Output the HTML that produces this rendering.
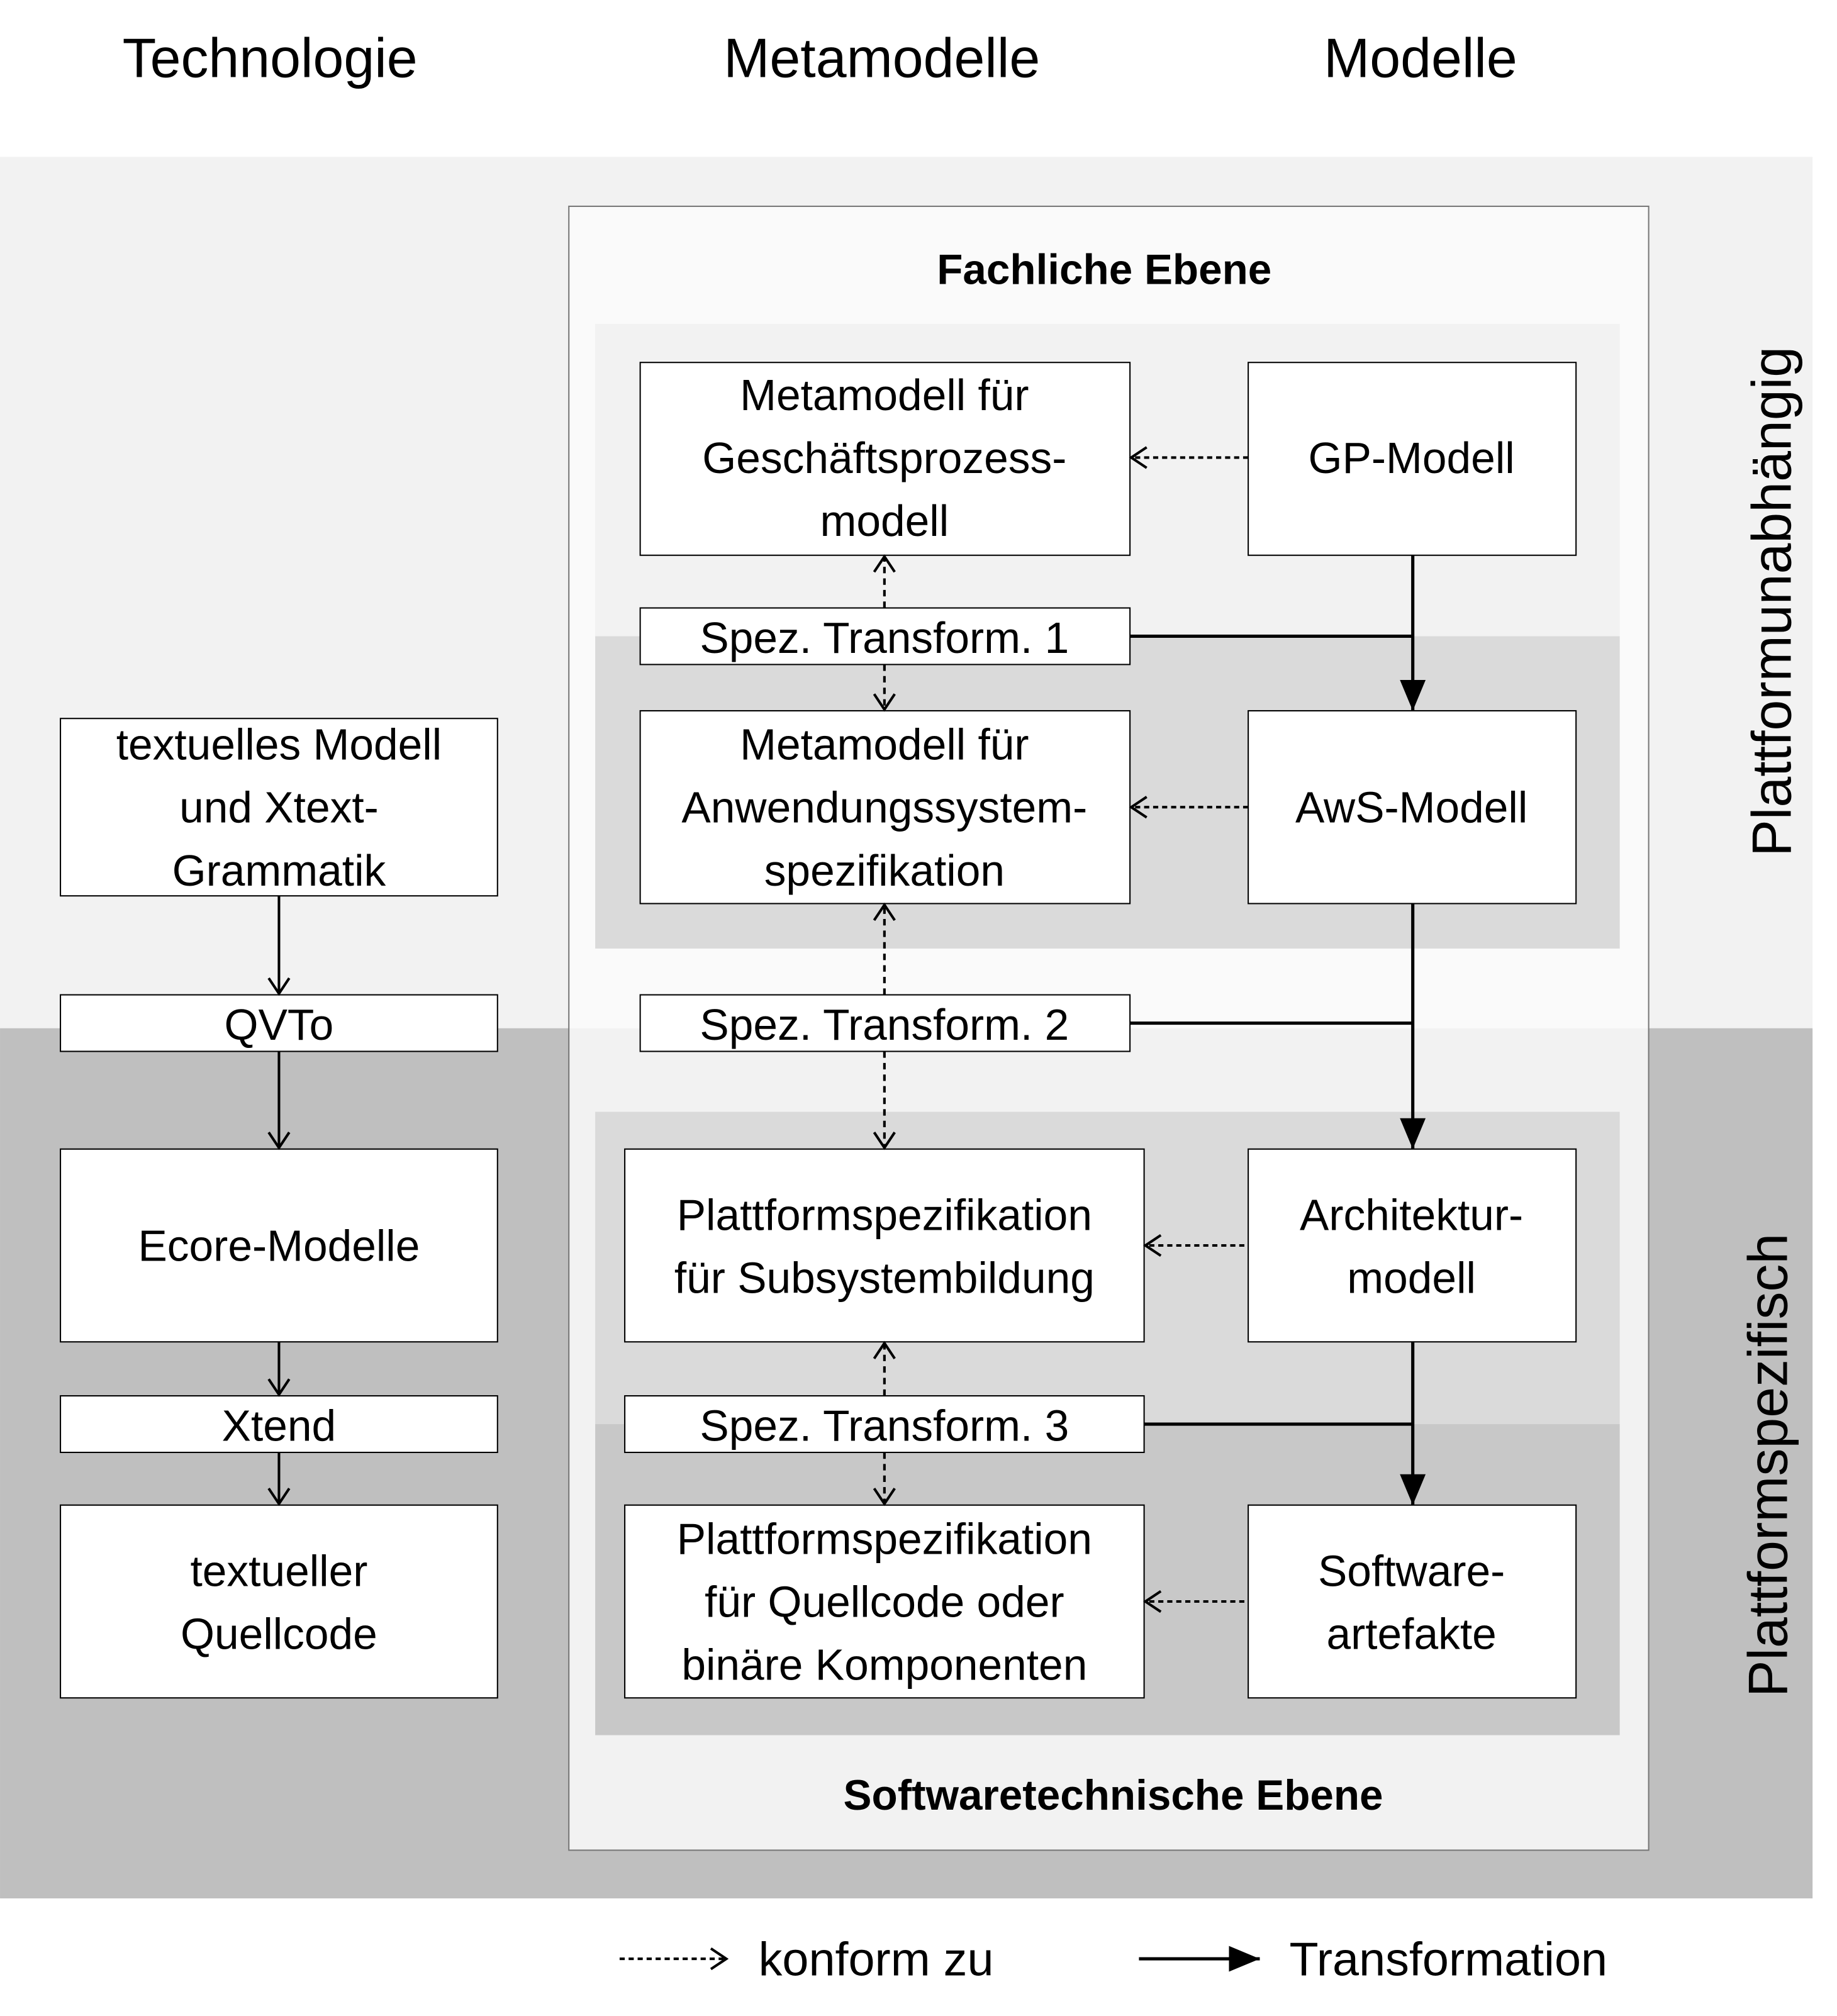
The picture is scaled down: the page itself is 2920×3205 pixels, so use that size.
<!DOCTYPE html>
<html><head><meta charset="utf-8"><style>html,body{margin:0;padding:0;background:#fff}svg{display:block}</style></head><body>
<svg xmlns="http://www.w3.org/2000/svg" width="2920" height="3205" viewBox="0 0 1429 1568.5">
<defs>
<marker id="open" markerWidth="20" markerHeight="20" refX="14" refY="10" orient="auto" markerUnits="userSpaceOnUse"><path d="M2,2 L14,10 L2,18" fill="none" stroke="#000" stroke-width="2"/></marker>
<marker id="tri" markerWidth="30" markerHeight="30" refX="24" refY="12" orient="auto" markerUnits="userSpaceOnUse"><path d="M0,2 L24,12 L0,22 Z" fill="#000"/></marker>
</defs>
<style>text{font-family:"Liberation Sans",sans-serif;fill:#000}.b{font-size:34px;text-anchor:middle}.h{font-size:43px;text-anchor:middle}.bold{font-weight:bold;font-size:33px;text-anchor:middle}</style>
<rect x="0" y="0" width="1452" height="1594" fill="#fff"/>
<rect x="0" y="122" width="1410" height="678" fill="#f2f2f2"/>
<rect x="0" y="800" width="1410" height="677" fill="#bfbfbf"/>
<rect x="442.5" y="160.5" width="840" height="1279" fill="#fafafa"/>
<rect x="442.5" y="800" width="840" height="639" fill="#f2f2f2"/>
<rect x="442.5" y="160.5" width="840" height="1279" fill="none" stroke="#777" stroke-width="1"/>
<rect x="463" y="252" width="797" height="243" fill="#f2f2f2"/>
<rect x="463" y="495" width="797" height="243" fill="#dadada"/>
<rect x="463" y="865" width="797" height="243" fill="#dadada"/>
<rect x="463" y="1108" width="797" height="242" fill="#c8c8c8"/>

<text class="h" x="210" y="60">Technologie</text>
<text class="h" x="686" y="60">Metamodelle</text>
<text class="h" x="1105" y="60">Modelle</text>
<text class="bold" x="859" y="221">Fachliche Ebene</text>
<text class="bold" x="866" y="1408">Softwaretechnische Ebene</text>
<text class="h" transform="translate(1393,468) rotate(-90)">Plattformunabhängig</text>
<text class="h" transform="translate(1390,1140) rotate(-90)">Plattformspezifisch</text>

<g fill="#fff" stroke="#000" stroke-width="1">
<rect x="498" y="282" width="381" height="150"/>
<rect x="971" y="282" width="255" height="150"/>
<rect x="498" y="473" width="381" height="44"/>
<rect x="498" y="553" width="381" height="150"/>
<rect x="971" y="553" width="255" height="150"/>
<rect x="498" y="774" width="381" height="44"/>
<rect x="486" y="894" width="404" height="150"/>
<rect x="971" y="894" width="255" height="150"/>
<rect x="486" y="1086" width="404" height="44"/>
<rect x="486" y="1171" width="404" height="150"/>
<rect x="971" y="1171" width="255" height="150"/>
<rect x="47" y="559" width="340" height="138"/>
<rect x="47" y="774" width="340" height="44"/>
<rect x="47" y="894" width="340" height="150"/>
<rect x="47" y="1086" width="340" height="44"/>
<rect x="47" y="1171" width="340" height="150"/>
</g>

<text class="b" x="688" y="319">Metamodell für</text>
<text class="b" x="688" y="368">Geschäftsprozess-</text>
<text class="b" x="688" y="417">modell</text>
<text class="b" x="1098" y="368">GP-Modell</text>
<text class="b" x="688" y="508">Spez. Transform. 1</text>
<text class="b" x="688" y="591">Metamodell für</text>
<text class="b" x="688" y="640">Anwendungssystem-</text>
<text class="b" x="688" y="689">spezifikation</text>
<text class="b" x="1098" y="640">AwS-Modell</text>
<text class="b" x="688" y="809">Spez. Transform. 2</text>
<text class="b" x="688" y="957">Plattformspezifikation</text>
<text class="b" x="688" y="1006">für Subsystembildung</text>
<text class="b" x="1098" y="957">Architektur-</text>
<text class="b" x="1098" y="1006">modell</text>
<text class="b" x="688" y="1121">Spez. Transform. 3</text>
<text class="b" x="688" y="1209">Plattformspezifikation</text>
<text class="b" x="688" y="1258">für Quellcode oder</text>
<text class="b" x="688" y="1307">binäre Komponenten</text>
<text class="b" x="1098" y="1234">Software-</text>
<text class="b" x="1098" y="1283">artefakte</text>
<text class="b" x="217" y="591">textuelles Modell</text>
<text class="b" x="217" y="640">und Xtext-</text>
<text class="b" x="217" y="689">Grammatik</text>
<text class="b" x="217" y="809">QVTo</text>
<text class="b" x="217" y="981">Ecore-Modelle</text>
<text class="b" x="217" y="1121">Xtend</text>
<text class="b" x="217" y="1234">textueller</text>
<text class="b" x="217" y="1283">Quellcode</text>

<g stroke="#000" stroke-width="2" fill="none">
<line x1="971" y1="356" x2="880" y2="356" stroke-dasharray="4,3" marker-end="url(#open)"/>
<line x1="971" y1="628" x2="880" y2="628" stroke-dasharray="4,3" marker-end="url(#open)"/>
<line x1="968" y1="969" x2="891" y2="969" stroke-dasharray="4,3" marker-end="url(#open)"/>
<line x1="968" y1="1246" x2="891" y2="1246" stroke-dasharray="4,3" marker-end="url(#open)"/>
<line x1="688" y1="473" x2="688" y2="433" stroke-dasharray="5,4" marker-end="url(#open)"/>
<line x1="688" y1="517" x2="688" y2="552" stroke-dasharray="5,4" marker-end="url(#open)"/>
<line x1="688" y1="774" x2="688" y2="704" stroke-dasharray="5,4" marker-end="url(#open)"/>
<line x1="688" y1="818" x2="688" y2="893" stroke-dasharray="5,4" marker-end="url(#open)"/>
<line x1="688" y1="1086" x2="688" y2="1045" stroke-dasharray="5,4" marker-end="url(#open)"/>
<line x1="688" y1="1130" x2="688" y2="1170" stroke-dasharray="5,4" marker-end="url(#open)"/>
<line x1="217" y1="697" x2="217" y2="773" marker-end="url(#open)"/>
<line x1="217" y1="818" x2="217" y2="893" marker-end="url(#open)"/>
<line x1="217" y1="1044" x2="217" y2="1085" marker-end="url(#open)"/>
<line x1="217" y1="1130" x2="217" y2="1170" marker-end="url(#open)"/>
<g stroke-width="2.5">
<line x1="1099" y1="432" x2="1099" y2="553" marker-end="url(#tri)"/>
<line x1="879" y1="495" x2="1099" y2="495"/>
<line x1="1099" y1="703" x2="1099" y2="894" marker-end="url(#tri)"/>
<line x1="879" y1="796" x2="1099" y2="796"/>
<line x1="1099" y1="1044" x2="1099" y2="1171" marker-end="url(#tri)"/>
<line x1="890" y1="1108" x2="1099" y2="1108"/>
<line x1="886" y1="1524" x2="980" y2="1524" marker-end="url(#tri)"/>
</g>
<line x1="482" y1="1524" x2="565" y2="1524" stroke-dasharray="4,3" marker-end="url(#open)"/>
</g>
<text x="590" y="1537" style="font-size:37px">konform zu</text>
<text x="1003" y="1537" style="font-size:37px">Transformation</text>
</svg>
</body></html>
